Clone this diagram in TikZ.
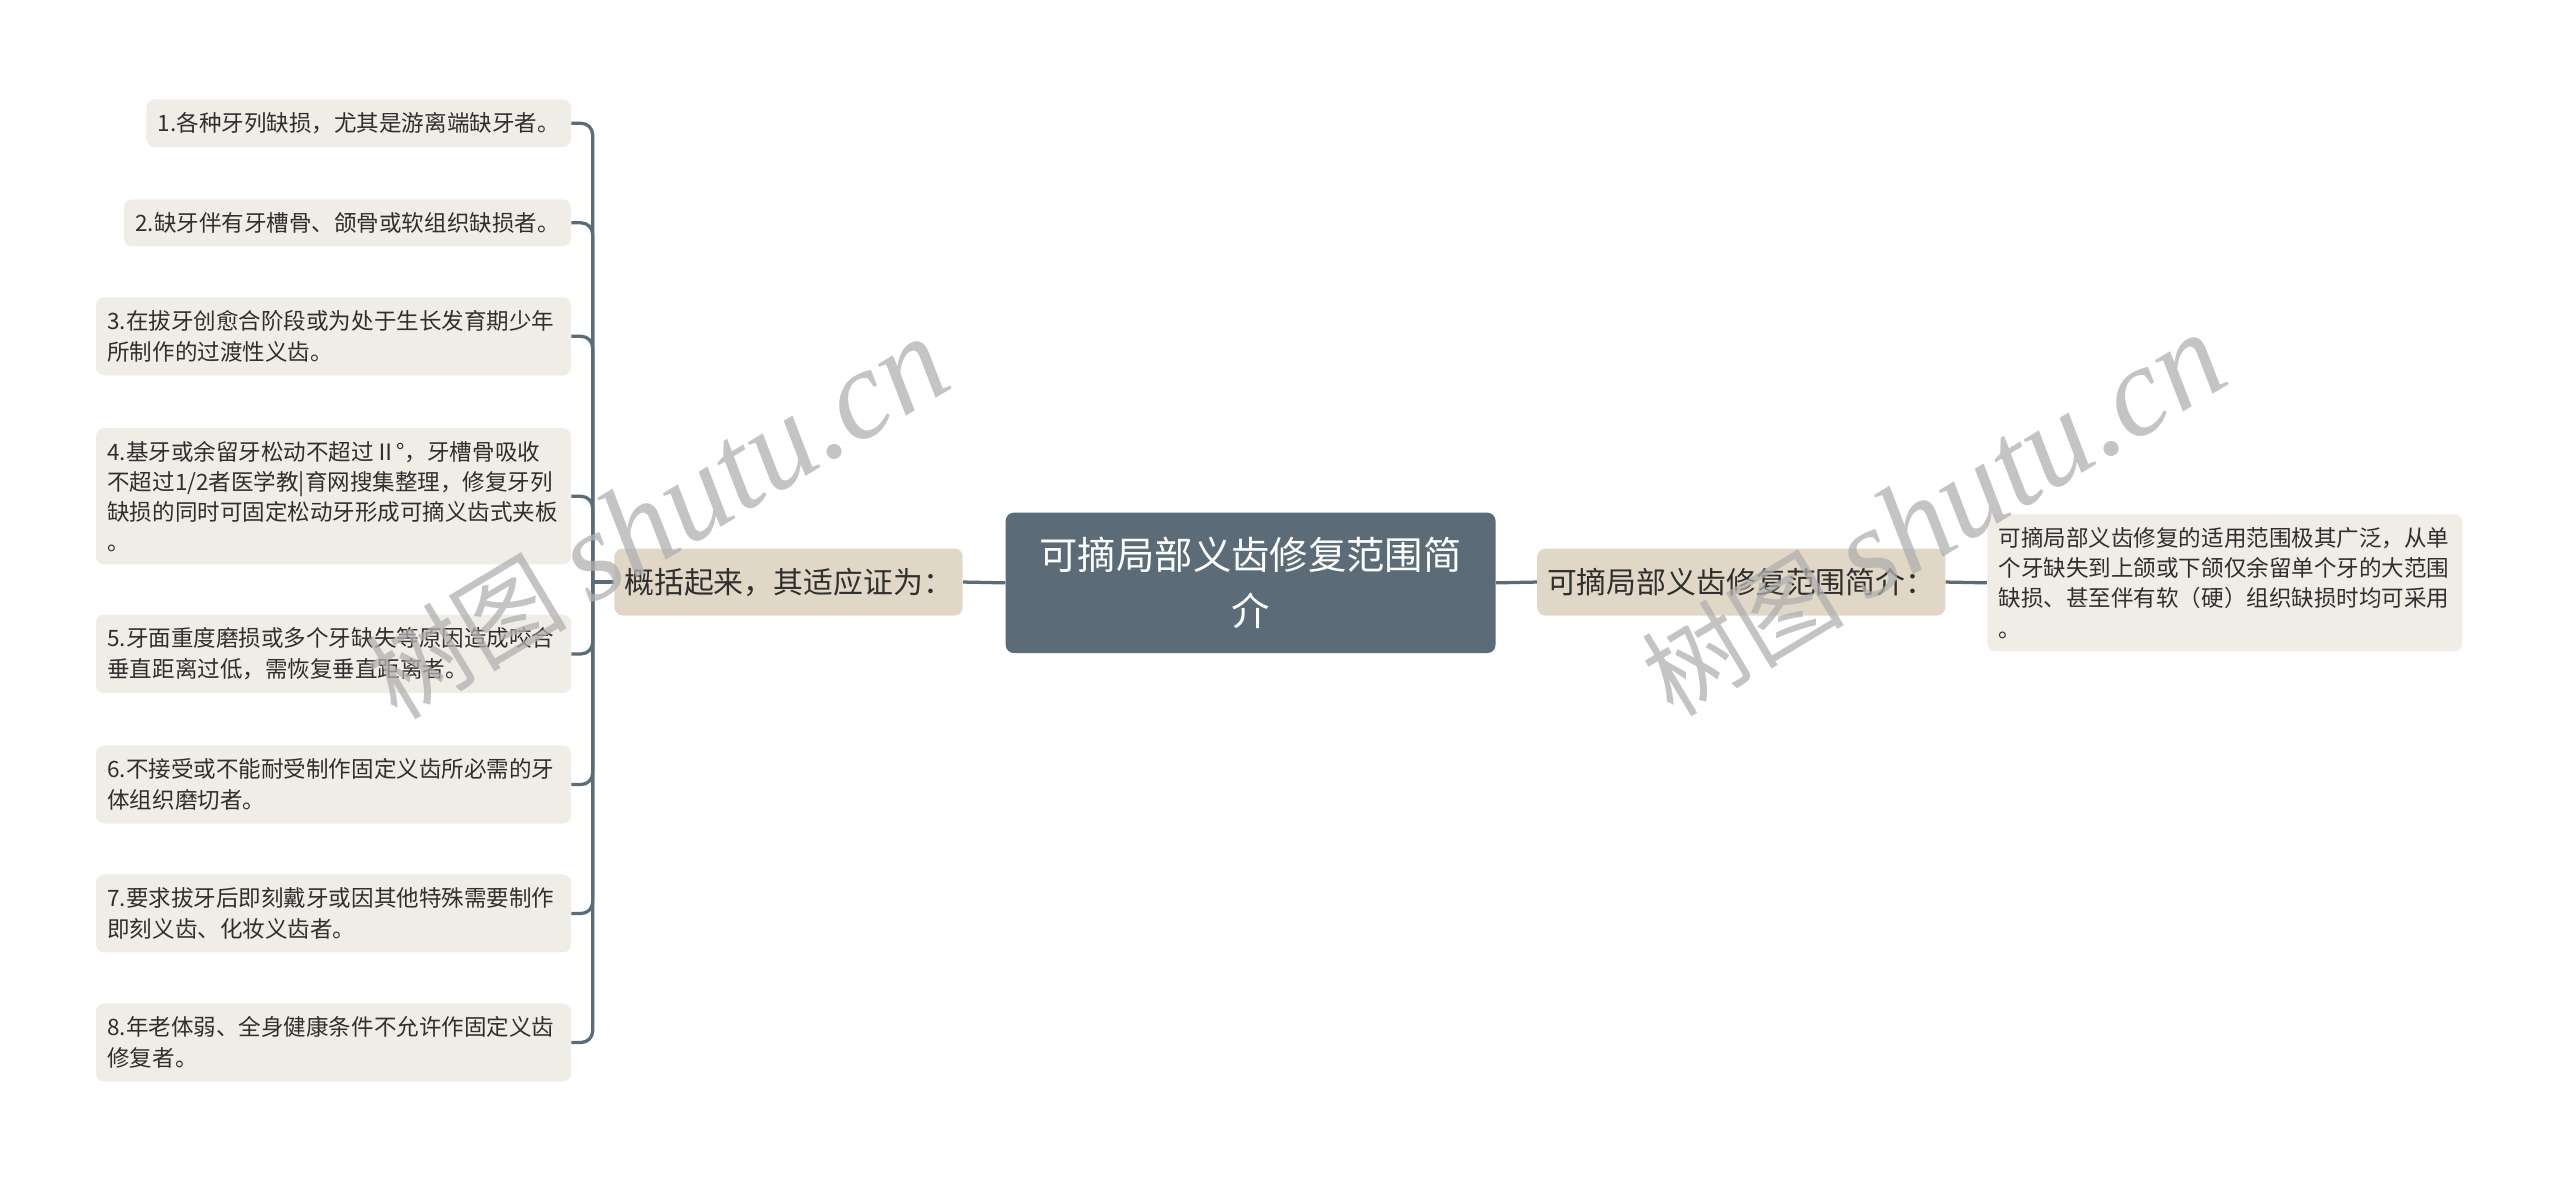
\documentclass[tikz,border=0pt]{standalone}
\usepackage{fontspec}
\setmainfont{Noto Sans CJK SC}
\newfontfamily\wmlatin{Liberation Serif}
\definecolor{slate}{HTML}{5B6C78}
\definecolor{branchfill}{HTML}{E1D7C6}
\definecolor{leaffill}{HTML}{F0EDE6}
\definecolor{inktext}{HTML}{2F2F2F}
\definecolor{wmgray}{HTML}{B0B0B0}
\begin{document}
\begin{tikzpicture}[x=1pt,y=-1pt,
 root/.style={fill=slate,rounded corners=5pt,text=white,align=center,font=\fontsize{23.5}{34}\selectfont,minimum width=300pt,minimum height=86pt,inner sep=0pt},
 branch/.style={fill=branchfill,rounded corners=5pt,text=inktext,font=\fontsize{18.3}{20}\selectfont,minimum height=41pt,inner xsep=6pt,inner ysep=0pt},
 leaf/.style={fill=leaffill,rounded corners=5pt,text=inktext,font=\fontsize{13.8}{19}\selectfont,align=left,inner xsep=7pt,inner ysep=8pt,anchor=east},
 wideleaf/.style={leaf,text width=277pt},
 link/.style={draw=slate,line width=2pt},
 wmark/.style={text=wmgray,opacity=0.75,font=\fontsize{62}{70}\selectfont}]
 \useasboundingbox (0,0) rectangle (1568,722.75);
 % centre and the two branches
 \node[root] (root) at (766,357) {可摘局部义齿修复范围简\\介};
 \node[branch] (gist) at (483,356.5) {概括起来，其适应证为：};
 \node[branch] (range) at (1066.5,356.5) {可摘局部义齿修复范围简介：};
 \node[leaf,anchor=west,text width=277pt,font=\fontsize{13.8}{18.5}\selectfont] (note) at (1217,357)
  {可摘局部义齿修复的适用范围极其广泛，从单\\个牙缺失到上颌或下颌仅余留单个牙的大范围\\缺损、甚至伴有软（硬）组织缺损时均可采用\\。};
 % left leaves
 \node[leaf] (l1) at (350,75.5) {1.各种牙列缺损，尤其是游离端缺牙者。};
 \node[leaf] (l2) at (350,136.5) {2.缺牙伴有牙槽骨、颌骨或软组织缺损者。};
 \node[wideleaf] (l3) at (350,206) {3.在拔牙创愈合阶段或为处于生长发育期少年\\所制作的过渡性义齿。};
 \node[wideleaf,font=\fontsize{13.8}{18.3}\selectfont] (l4) at (350,304) {4.基牙或余留牙松动不超过Ⅱ°，牙槽骨吸收\\不超过1/2者医学教|育网搜集整理，修复牙列\\缺损的同时可固定松动牙形成可摘义齿式夹板\\。};
 \node[wideleaf] (l5) at (350,400.5) {5.牙面重度磨损或多个牙缺失等原因造成咬合\\垂直距离过低，需恢复垂直距离者。};
 \node[wideleaf] (l6) at (350,480.5) {6.不接受或不能耐受制作固定义齿所必需的牙\\体组织磨切者。};
 \node[wideleaf] (l7) at (350,559.5) {7.要求拔牙后即刻戴牙或因其他特殊需要制作\\即刻义齿、化妆义齿者。};
 \node[wideleaf] (l8) at (350,638.5) {8.年老体弱、全身健康条件不允许作固定义齿\\修复者。};
 % connectors
 \coordinate (lbj) at (363,356.5);
 \draw[link] (root.west) -- (gist.east);
 \draw[link] (root.east) -- (range.west);
 \draw[link] (range.east) -- (note.west);
 \draw[link] (gist.west) -- (lbj);
 \foreach \i in {1,...,8}
  \draw[link,rounded corners=7pt] (lbj) |- (l\i.east);
 % watermarks
 \node[wmark,rotate=31] (wmleft) at (402,318) {树图 {\wmlatin\itshape\fontsize{78}{80}\selectfont shutu.cn}};
 \node[wmark,rotate=31] (wmright) at (1184,316) {树图 {\wmlatin\itshape\fontsize{78}{80}\selectfont shutu.cn}};
\end{tikzpicture}
\end{document}
